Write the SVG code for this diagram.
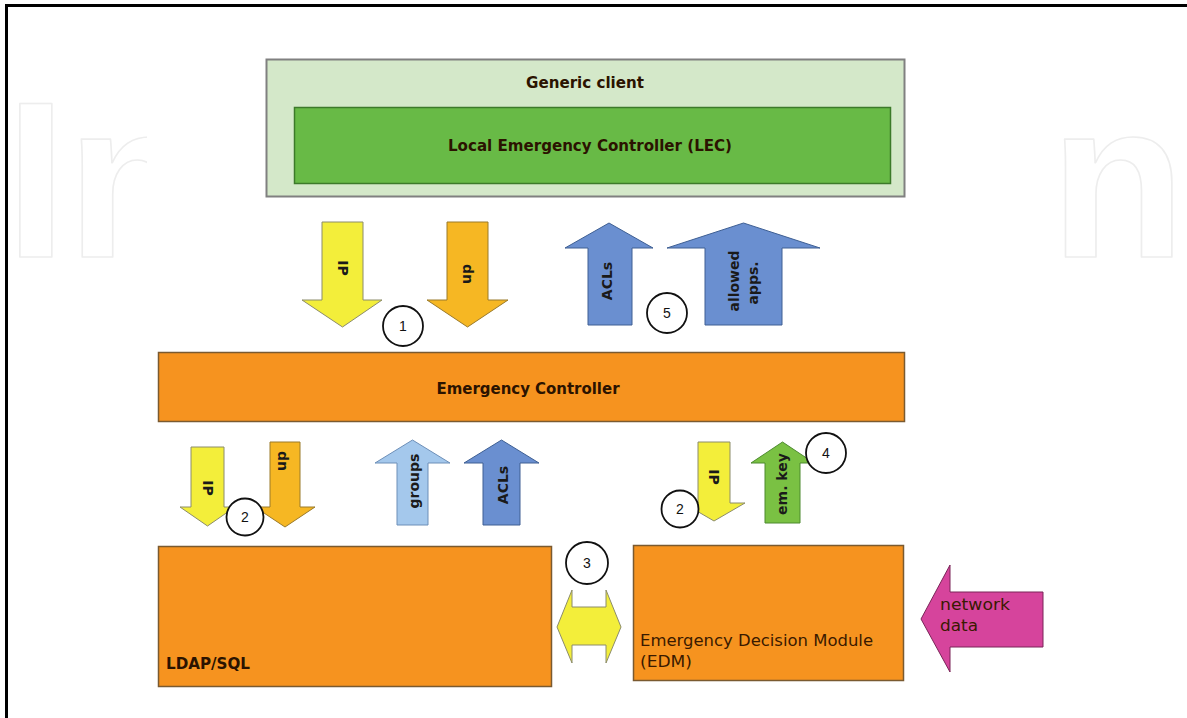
<svg xmlns="http://www.w3.org/2000/svg" width="1187" height="718" viewBox="0 0 1187 718">
<style>
.wm{font-family:"Liberation Sans",Arial,sans-serif;font-weight:bold;font-size:222px;fill:none;stroke:#ededed;stroke-width:1.6;stroke-linejoin:round}
.box{fill:#f6931f;stroke:#7a5a30;stroke-width:1.5}
.lbl{font-family:"DejaVu Sans",Verdana,sans-serif;font-weight:bold;font-size:16px;fill:#2b1300}
.reg{font-family:"DejaVu Sans",Verdana,sans-serif;font-size:16px;fill:#3a1a00}
.al{font-family:"DejaVu Sans",Verdana,sans-serif;font-weight:bold;font-size:14px;fill:#1a1a1a;text-anchor:middle;dominant-baseline:central}
.yel{fill:#f3ee3a;stroke:#8c8c6a;stroke-width:1}
.ora{fill:#f6b723;stroke:#9a7a2a;stroke-width:1}
.blu{fill:#6a8fd0;stroke:#3e5f93;stroke-width:1}
.lbl2{fill:#a4c8ec;stroke:#6d8fb8;stroke-width:1}
.grn{fill:#7ac143;stroke:#4c8a2e;stroke-width:1}
.mag{fill:#d6449c;stroke:#7a2558;stroke-width:1}
.circ{fill:#ffffff;stroke:#111;stroke-width:1.8}
.num{font-family:"Liberation Sans",Arial,sans-serif;font-size:14px;fill:#111;text-anchor:middle;dominant-baseline:central}
</style>
<rect x="0" y="0" width="1187" height="718" fill="#ffffff"/>
<g id="watermark">
<text class="wm" x="5" y="257">In</text>
<text class="wm" x="1050" y="257">n</text>
</g>
<rect x="147" y="20" width="905" height="690" fill="#ffffff"/>
<path d="M6.5,718 V5.5 H1187" fill="none" stroke="#000" stroke-width="3"/>

<g id="generic-client">
<rect x="266.5" y="59.5" width="638" height="137" fill="#d4e8c9" stroke="#808080" stroke-width="2"/>
<text class="lbl" x="585" y="88" text-anchor="middle" textLength="118" lengthAdjust="spacingAndGlyphs" font-size="15">Generic client</text>
</g>
<g id="lec">
<rect x="294.5" y="107.5" width="596" height="76" fill="#68ba46" stroke="#3c7a2a" stroke-width="1.5"/>
<text class="lbl" x="590" y="151" text-anchor="middle" textLength="284" lengthAdjust="spacingAndGlyphs" font-size="15" fill="#1f2a10">Local Emergency Controller (LEC)</text>
</g>
<g id="emergency-controller">
<rect class="box" x="158.5" y="352.5" width="746" height="69"/>
<text class="lbl" x="528" y="394" text-anchor="middle" textLength="183" lengthAdjust="spacingAndGlyphs">Emergency Controller</text>
</g>
<g id="ldap-sql">
<rect class="box" x="158.5" y="546.5" width="393" height="140"/>
<text class="lbl" x="166" y="669" textLength="84" lengthAdjust="spacingAndGlyphs" font-size="15">LDAP/SQL</text>
</g>
<g id="edm">
<rect class="box" x="633.5" y="545.5" width="270" height="135"/>
<text class="reg" x="640" y="646" textLength="233" lengthAdjust="spacingAndGlyphs">Emergency Decision Module</text>
<text class="reg" x="640" y="667" textLength="52" lengthAdjust="spacingAndGlyphs">(EDM)</text>
</g>

<g id="connectors">
<path class="yel" d="M322,222 H363 V300 H382 L342.5,327 L302,300 H322 Z"/>
<text class="al" transform="translate(343,268) rotate(90)">IP</text>
<path class="ora" d="M447,222 H488 V300 H508 L467.5,327 L427,300 H447 Z"/>
<text class="al" transform="translate(468,274) rotate(90)">dn</text>

<path class="blu" d="M588,325 H632 V248 H653 L609,223 L565,248 H588 Z"/>
<text class="al" transform="translate(607,281) rotate(-90)">ACLs</text>
<path class="blu" d="M705,325 H782 V248 H820 L743.5,223 L667,248 H705 Z"/>
<text class="al" transform="translate(734,281) rotate(-90)">allowed</text>
<text class="al" transform="translate(753,283) rotate(-90)">apps.</text>

<path class="yel" d="M191,447 H224 V507 H235 L207.5,526 L180,507 H191 Z"/>
<text class="al" transform="translate(208,488) rotate(90)">IP</text>
<path class="ora" d="M270,442 H300 V507 H315 L285,527 L255,507 H270 Z"/>
<text class="al" transform="translate(283,461) rotate(90)">dn</text>

<path class="lbl2" d="M397,525 H428 V463 H450 L412.5,440 L375,463 H397 Z"/>
<text class="al" transform="translate(414,481) rotate(-90)">groups</text>
<path class="blu" d="M483,525 H520 V463 H539 L501.5,440 L464,463 H483 Z"/>
<text class="al" transform="translate(503,485) rotate(-90)">ACLs</text>

<path class="yel" d="M698,442 H730 V503 H745 L714,521 L683,503 H698 Z"/>
<text class="al" transform="translate(714,477) rotate(90)">IP</text>
<path class="grn" d="M765,523 H800 V463 H814 L782.5,442 L751,463 H765 Z"/>
<text class="al" transform="translate(782,484) rotate(-90)">em. key</text>

<path class="yel" d="M572,607 H606 V590 L621,627 L606,663 V645 H572 V663 L557,627 L572,590 Z"/>

<path class="mag" d="M1043,592 V647 H950 V672 L921,619 L950,565 V592 Z"/>
<text class="reg" x="940" y="610" fill="#3a0a30" textLength="70" lengthAdjust="spacingAndGlyphs">network</text>
<text class="reg" x="940" y="631" fill="#3a0a30" textLength="38" lengthAdjust="spacingAndGlyphs">data</text>
</g>

<g id="step-1"><circle class="circ" cx="403" cy="326" r="20"/><text class="num" x="403" y="326">1</text></g>
<g id="step-5"><circle class="circ" cx="667" cy="313" r="20"/><text class="num" x="667" y="313">5</text></g>
<g id="step-2a"><circle class="circ" cx="245" cy="517" r="18.5"/><text class="num" x="245" y="517">2</text></g>
<g id="step-2b"><circle class="circ" cx="680" cy="509" r="18.5"/><text class="num" x="680" y="509">2</text></g>
<g id="step-4"><circle class="circ" cx="826" cy="453" r="20"/><text class="num" x="826" y="453">4</text></g>
<g id="step-3"><circle class="circ" cx="587" cy="563" r="21"/><text class="num" x="587" y="563">3</text></g>
</svg>
